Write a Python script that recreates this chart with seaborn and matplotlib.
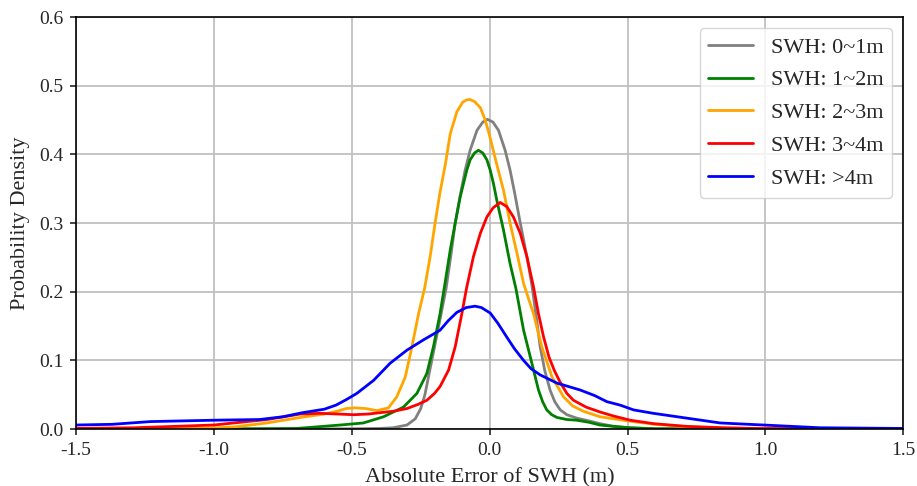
import numpy as np
import pandas as pd
import matplotlib
matplotlib.use("Agg")
import matplotlib.pyplot as plt
import seaborn as sns

sns.set_style("white")
plt.rcParams['font.family'] = ['Liberation Serif', 'DejaVu Serif']
plt.rcParams['axes.unicode_minus'] = False

# values
labels = ["SWH: 0~1m", "SWH: 1~2m", "SWH: 2~3m", "SWH: 3~4m", "SWH: >4m"]
colors = ["grey", "green", "orange", "red", "blue"]

x_0_1 = [-1.5, -0.8, -0.5, -0.4, -0.35, -0.3, -0.27, -0.25, -0.235, -0.22, -0.2, -0.18, -0.158,
         -0.14, -0.125, -0.107, -0.089, -0.071, -0.046, -0.025, -0.008, 0.012, 0.032, 0.056,
         0.074, 0.09, 0.111, 0.135, 0.153, 0.17, 0.183, 0.2, 0.219, 0.236, 0.256, 0.28, 0.316,
         0.36, 0.4, 0.45, 0.5, 0.6, 1.5]
y_0_1 = [0, 0, 0.0005, 0.001, 0.002, 0.006, 0.015, 0.03, 0.05, 0.08, 0.12, 0.16, 0.205,
         0.255, 0.30, 0.34, 0.377, 0.406, 0.435, 0.447, 0.451, 0.447, 0.435, 0.406,
         0.377, 0.345, 0.30, 0.251, 0.21, 0.16, 0.12, 0.085, 0.057, 0.04, 0.028, 0.021, 0.016,
         0.012, 0.008, 0.004, 0.002, 0.0005, 0]

x_1_2 = [-1.5, -0.9, -0.7, -0.542, -0.458, -0.385, -0.313, -0.264, -0.228, -0.204, -0.18, -0.161,
         -0.143, -0.125, -0.107, -0.083, -0.071, -0.055, -0.041, -0.025, -0.01, 0.002, 0.014,
         0.026, 0.05, 0.074, 0.095, 0.123, 0.153, 0.177, 0.192, 0.207, 0.225, 0.244, 0.28, 0.316,
         0.36, 0.40, 0.45, 0.51, 0.6, 1.5]
y_1_2 = [0, 0.0005, 0.001, 0.006, 0.009, 0.018, 0.032, 0.052, 0.081, 0.12, 0.168, 0.215,
         0.261, 0.300, 0.338, 0.377, 0.392, 0.402, 0.406, 0.402, 0.392, 0.377, 0.357,
         0.333, 0.29, 0.241, 0.205, 0.144, 0.096, 0.057, 0.04, 0.028, 0.021, 0.017, 0.014, 0.013,
         0.010, 0.006, 0.004, 0.002, 0.0005, 0]

x_2_3 = [-1.5, -1.05, -0.93, -0.808, -0.687, -0.6, -0.554, -0.52, -0.488, -0.45, -0.409, -0.367,
         -0.337, -0.306, -0.282, -0.258, -0.236, -0.216, -0.198, -0.18, -0.161, -0.143, -0.119,
         -0.098, -0.085, -0.073, -0.055, -0.034, -0.018, -0.004, 0.026, 0.05, 0.074, 0.099, 0.123,
         0.159, 0.189, 0.226, 0.268, 0.30, 0.34, 0.40, 0.5, 0.6, 0.7, 0.8, 1.0, 1.5]
y_2_3 = [0, 0.001, 0.003, 0.009, 0.017, 0.022, 0.026, 0.030, 0.031, 0.030, 0.027, 0.031,
         0.047, 0.076, 0.12, 0.168, 0.205, 0.251, 0.300, 0.345, 0.385, 0.43, 0.462,
         0.476, 0.479, 0.480, 0.477, 0.468, 0.452, 0.433, 0.385, 0.348, 0.300, 0.256, 0.212,
         0.168, 0.12, 0.076, 0.047, 0.034, 0.026, 0.018, 0.012, 0.007, 0.004, 0.002, 0.0005, 0]

x_3_4 = [-1.5, -1.29, -1.0, -0.808, -0.687, -0.615, -0.55, -0.494, -0.44, -0.397, -0.35, -0.30,
         -0.26, -0.228, -0.2, -0.18, -0.149, -0.125, -0.101, -0.083, -0.059, -0.034, -0.01, 0.012,
         0.038, 0.062, 0.086, 0.111, 0.135, 0.159, 0.177, 0.195, 0.215, 0.235, 0.256, 0.28, 0.304,
         0.35, 0.40, 0.45, 0.51, 0.594, 0.715, 0.85, 0.957, 1.1, 1.5]
y_3_4 = [0.001, 0.002, 0.006, 0.014, 0.022, 0.023, 0.022, 0.021, 0.022, 0.024, 0.026, 0.030,
         0.036, 0.042, 0.052, 0.062, 0.086, 0.12, 0.168, 0.207, 0.251, 0.285, 0.309, 0.322,
         0.330, 0.324, 0.309, 0.285, 0.251, 0.207, 0.168, 0.135, 0.105, 0.085, 0.068, 0.052, 0.042,
         0.032, 0.025, 0.019, 0.013, 0.008, 0.004, 0.002, 0.001, 0.0005, 0]

x_4p = [-1.5, -1.37, -1.23, -1.0, -0.835, -0.75, -0.678, -0.6, -0.557, -0.52, -0.482, -0.421,
        -0.361, -0.30, -0.24, -0.18, -0.15, -0.119, -0.085, -0.053, -0.03, 0.002, 0.03, 0.062,
        0.09, 0.123, 0.15, 0.183, 0.244, 0.328, 0.38, 0.425, 0.473, 0.522, 0.594, 0.715, 0.836,
        0.993, 1.199, 1.5]
y_4p = [0.006, 0.007, 0.011, 0.013, 0.014, 0.018, 0.024, 0.029, 0.035, 0.043, 0.052, 0.071,
        0.096, 0.115, 0.130, 0.144, 0.158, 0.170, 0.177, 0.179, 0.177, 0.169, 0.154, 0.134,
        0.117, 0.100, 0.088, 0.079, 0.067, 0.057, 0.049, 0.040, 0.035, 0.028, 0.023, 0.016, 0.009,
        0.006, 0.002, 0.001]

xs = [x_0_1, x_1_2, x_2_3, x_3_4, x_4p]
ys = [y_0_1, y_1_2, y_2_3, y_3_4, y_4p]

df = pd.concat([pd.DataFrame({"x": x, "y": y, "label": lab})
                for x, y, lab in zip(xs, ys, labels)], ignore_index=True)

fig, ax = plt.subplots(figsize=(9.17, 4.86), dpi=100)
fig.subplots_adjust(left=0.083, right=0.985, bottom=0.117, top=0.965)

sns.lineplot(data=df, x="x", y="y", hue="label", hue_order=labels,
             palette=dict(zip(labels, colors)), estimator=None, sort=True,
             linewidth=2, ax=ax)

ax.set_xlim(-1.5, 1.5)
ax.set_ylim(0, 0.6)
ax.set_xticks(np.arange(-1.5, 1.51, 0.5))
ax.set_yticks(np.arange(0, 0.61, 0.1))
ax.grid(True, color="#c0c0c0", linewidth=1.3)
ax.tick_params(axis="both", labelsize=14, direction="out", length=4, width=1.2,
               pad=5, bottom=True, left=True)
for s in ax.spines.values():
    s.set_color("black")
    s.set_linewidth(1.2)

ax.set_xlabel("Absolute Error of SWH (m)", fontsize=16, labelpad=7)
ax.set_ylabel("Probability Density", fontsize=16, labelpad=7)
ax.legend(loc="upper right", fontsize=16, title=None, labelspacing=0.55)

fig.savefig("out.png", dpi=100)
